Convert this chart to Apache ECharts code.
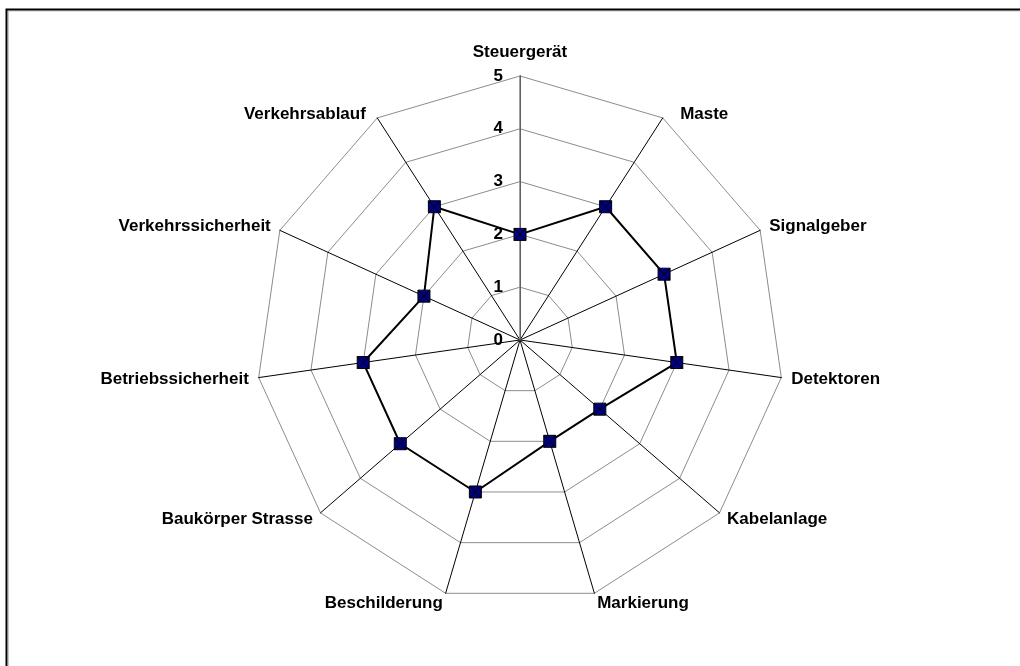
<!DOCTYPE html>
<html>
<head>
<meta charset="utf-8">
<script src="https://cdn.jsdelivr.net/npm/echarts@6/dist/echarts.min.js"></script>
<style>
html,body{margin:0;padding:0;background:#fff;}
#chart{width:1020px;height:666px;}
</style>
</head>
<body>
<div id="chart"></div>
<script>
// Categories in clockwise order starting from the top
const categories = ['Steuergerät','Maste','Signalgeber','Detektoren','Kabelanlage','Markierung','Beschilderung','Baukörper Strasse','Betriebssicherheit','Verkehrssicherheit','Verkehrsablauf'];
const values = [2,3,3,3,2,2,3,3,3,2,3];
const tickLabels = ['0','1','2','3','4','5'];
const maxValue = 5;

// ECharts radar runs counter-clockwise; reorder to draw clockwise
function toCCW(arr){ return [arr[0]].concat(arr.slice(1).reverse()); }
const indicator = toCCW(categories).map(n => ({name: n, min: 0, max: maxValue}));
const seriesValues = toCCW(values);

const CX = 520, CY = 340, R = 264;
const font = '"Liberation Sans", Arial, sans-serif';
const baseText = { color:'#000', fontFamily: font, fontWeight:'bold', fontSize:17 };

// label style keys (nudges to match the original label placement)
const nameStyle = {
  'Steuergerät': 'top',
  'Maste': 'ur',
  'Verkehrsablauf': 'ul'
};

const chart = echarts.init(document.getElementById('chart'), null, {renderer:'canvas'});
chart.setOption({
  backgroundColor: '#fff',
  animation: false,
  graphic: [
    {type:'rect', shape:{x:8.5,y:11,width:1200,height:1000}, style:{fill:'none', stroke:'#c8c8c8', lineWidth:1}, z:0},
    {type:'rect', shape:{x:6.5,y:9.5,width:1200,height:1000}, style:{fill:'none', stroke:'#000', lineWidth:2}, z:1}
  ],
  radar: {
    center: [CX, CY],
    radius: R,
    startAngle: 90,
    splitNumber: 5,
    shape: 'polygon',
    indicator: indicator,
    nameGap: 10,
    axisName: Object.assign({}, baseText, {
      formatter: function(name){ return '{' + (nameStyle[name] || 'n') + '|' + name + '}'; },
      rich: {
        n: Object.assign({}, baseText),
        top: Object.assign({}, baseText, {padding:[0,0,5,0]}),
        ur: Object.assign({}, baseText, {padding:[10,0,0,12]}),
        ul: Object.assign({}, baseText, {padding:[10,6,0,0]})
      }
    }),
    axisLine: { lineStyle: { color:'#000', width:1 } },
    splitLine: { lineStyle: { color:'#8c8c8c', width:1 } },
    splitArea: { show:false },
    axisTick: { show:false },
    axisLabel: { show:false }
  },
  grid: { left: CX, top: CY - R, width: 1, height: R },
  xAxis: { type:'value', show:false },
  yAxis: {
    type:'value', min:0, max:maxValue, interval:1,
    axisLine: { show:true, lineStyle:{ color:'#808080', width:1.5 } },
    axisTick: { show:false },
    splitLine: { show:false },
    axisLabel: { color:'#000', fontFamily: font, fontWeight:'bold', fontSize:17, margin:17,
      padding:[4,0,0,0],
      formatter: v => tickLabels[v] }
  },
  series: [{
    type:'radar',
    z: 5,
    symbol: 'path://M0,0L10,0L10,10L0,10Z M0,0L10,10 M10,0L0,10',
    symbolSize: 12,
    lineStyle: { color:'#000', width:2 },
    itemStyle: { color:'#000080', borderColor:'#000', borderWidth:1 },
    data: [{ value: seriesValues }]
  }]
});
</script>
</body>
</html>
